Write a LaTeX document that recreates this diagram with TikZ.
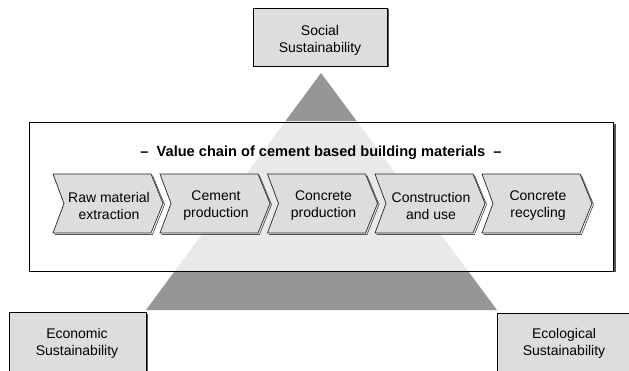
\documentclass[tikz,border=0pt]{standalone}
\usepackage{fontspec}
\setmainfont{Liberation Sans}
\definecolor{boxgray}{HTML}{DDDDDD}
\definecolor{trigray}{HTML}{969696}
\definecolor{trilight}{HTML}{E9E9E9}
\definecolor{shadowgray}{HTML}{555555}
\begin{document}
\begin{tikzpicture}[x=1pt,y=-1pt,
  every node/.style={font=\fontsize{14}{17}\selectfont, align=center, inner sep=0pt},
  pillarbox/.style={draw=black, line width=0.8pt, fill=boxgray},
  boxshadow/.style={fill=shadowgray, draw=none},
  chevshape/.style={draw=black!85, line width=0.7pt, fill=boxgray},
  chevshadow/.style={draw=shadowgray, line width=0.7pt}
]
\useasboundingbox (0,0) rectangle (629,371);
% triangle
\fill[trigray] (321,73) -- (497,310) -- (146,310) -- cycle;
% main box with shadow
\fill[shadowgray] (31,124) rectangle (615.5,272.5);
\fill[white] (29,122) rectangle (613,271);
\begin{scope}
  \clip (29,122) rectangle (613,271);
  \fill[trilight] (321,73) -- (497,310) -- (146,310) -- cycle;
\end{scope}
\draw[black, line width=0.9pt] (29,122) rectangle (613,271);
\node[font=\bfseries\fontsize{14.6}{17}\selectfont] (title) at (321,152.5)
  {–\ \ Value chain of cement based building materials\ \ –};
% chevrons
\foreach \x/\name/\txt in {53/c1/{Raw material\\extraction},
                          160/c2/{Cement\\production},
                          267.5/c3/{Concrete\\production},
                          375/c4/{Construction\\and use},
                          482/c5/{Concrete\\recycling}}{
  \draw[chevshadow] (\x+99.5,175.5) -- (\x+111.5,204.5) -- (\x+99.5,234.5) -- (\x+1.5,234.5);
  \draw[chevshape] (\x,174) -- (\x+98,174) -- (\x+110,203.5) -- (\x+98,233) -- (\x,233) -- (\x+11,203.5) -- cycle;
  \node (\name) at (\x+56,205.5) {\txt};
}
% social
\fill[boxshadow] (254.5,9.5) rectangle (388.5,67.5);
\draw[pillarbox] (253,8) rectangle (387,66);
\node (social) at (320,40.5) {Social\\Sustainability};
% economic
\fill[boxshadow] (10.5,313.5) rectangle (147.5,375);
\draw[pillarbox] (9,312) rectangle (146,375);
\node (economic) at (77,343.5) {Economic\\Sustainability};
% ecological
\fill[boxshadow] (498.5,314.5) rectangle (640,375);
\draw[pillarbox] (497,313) rectangle (640,375);
\node (ecological) at (564,343.5) {Ecological\\Sustainability};
\end{tikzpicture}
\end{document}
